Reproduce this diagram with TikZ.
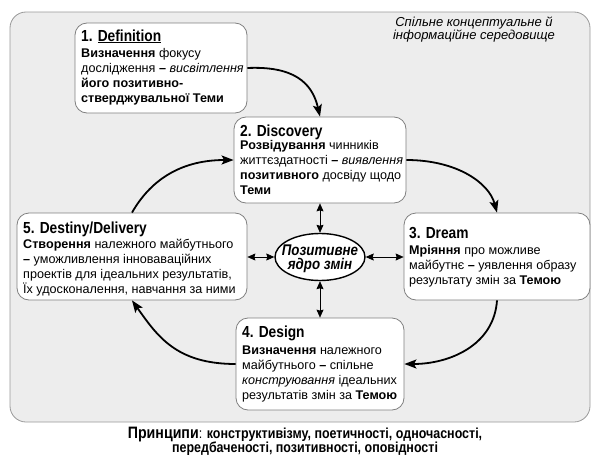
\documentclass[tikz,border=0pt]{standalone}
\usepackage{fontspec}
\setmainfont{Liberation Sans}
\newfontfamily\narrowfont[FakeStretch=0.86]{Liberation Sans}
\usetikzlibrary{arrows.meta,shapes.geometric}
\newcommand\bodylines[1]{\begin{tabular}[t]{@{}l@{}}#1\end{tabular}}
\newcommand\ctrlines[1]{\begin{tabular}[t]{@{}c@{}}#1\end{tabular}}
\begin{document}
\begin{tikzpicture}[x=1pt,y=-1pt,
  stage/.style={draw=black!50, line width=0.8pt, fill=white, rounded corners=12pt, inner sep=0pt},
  ttl/.style={anchor=base west, inner sep=0pt, font=\narrowfont\bfseries\fontsize{16}{16}\selectfont},
  body/.style={anchor=base west, inner sep=0pt, font=\fontsize{12.6}{15}\selectfont},
  flow/.style={line width=1.8pt, -{Stealth[length=12pt,width=9pt,inset=2.5pt]}},
  link/.style={line width=0.6pt, {Stealth[length=8pt,width=7pt,inset=1pt]}-{Stealth[length=8pt,width=7pt,inset=1pt]}}
]
\useasboundingbox (0,0) rectangle (592,455);
\node[draw=black!40, line width=0.8pt, fill=black!7, rounded corners=16pt, minimum width=580pt, minimum height=410pt, inner sep=0pt] (env) at (300,217) {};
\node[anchor=base, inner sep=0pt, font=\itshape\fontsize{13}{11}\selectfont] (envlabel) at (474,27)
  {\ctrlines{Спільне концептуальне й\\інформаційне середовище}};

% boxes
\node[stage, minimum width=172pt, minimum height=90pt] (def) at (161,68) {};
\node[stage, minimum width=172pt, minimum height=86pt] (disc) at (320,160) {};
\node[stage, minimum width=186pt, minimum height=87pt] (dream) at (497,256.5) {};
\node[stage, minimum width=168pt, minimum height=92pt] (design) at (320,364) {};
\node[stage, minimum width=230pt, minimum height=87pt] (destiny) at (132,256.5) {};
\node[ellipse, draw, line width=1.4pt, fill=white, minimum width=90pt, minimum height=47pt, inner sep=0pt] (core) at (320,257) {};
\node[anchor=base, inner sep=0pt, font=\narrowfont\bfseries\itshape\fontsize{15.5}{11.5}\selectfont] (coretext) at (320,255) {\ctrlines{Позитивне\\ядро змін}};

% texts
\node[ttl] (deft) at (81,41) {1. \underline{Definition}};
\node[body] (defb) at (81,57) {\bodylines{\textbf{Визначення} фокусу\\дослідження \textbf{–} \textit{висвітлення}\\\textbf{його позитивно-}\\\textbf{стверджувальної Теми}}};

\node[ttl] (disct) at (240,136) {2. Discovery};
\node[body] (discb) at (240,149.5) {\bodylines{\textbf{Розвідування} чинників\\життєздатності \textbf{–} \textit{виявлення}\\\textbf{позитивного} досвіду щодо\\\textbf{Теми}}};

\node[ttl] (dreamt) at (409,238) {3. Dream};
\node[body] (dreamb) at (409,254) {\bodylines{\textbf{Мріяння} про можливе\\майбутнє \textbf{–} уявлення образу\\результату змін за \textbf{Темою}}};

\node[ttl] (designt) at (242,337) {4. Design};
\node[body] (designb) at (242,354) {\bodylines{\textbf{Визначення} належного\\майбутнього \textbf{–} спільне\\\textit{конструювання} ідеальних\\результатів змін за \textbf{Темою}}};

\node[ttl] (destinyt) at (23,233) {5. Destiny/Delivery};
\node[body] (destinyb) at (23,248) {\bodylines{\textbf{Створення} належного майбутнього\\\textbf{–} уможливлення інноваваційних\\проектів для ідеальних результатів,\\Їх удосконалення, навчання за ними}};

% principles
\node[anchor=base, inner sep=0pt, font=\narrowfont\fontsize{14.5}{13}\selectfont] (princ) at (305,438)
  {\ctrlines{{\bfseries\fontsize{16.5}{13}\selectfont Принципи}: \textbf{конструктивізму, поетичності, одночасності,}\\\textbf{передбаченості, позитивності, оповідності}}};

% cycle arrows
\draw[flow] (def.east) .. controls +(45,-2) and +(-8,-35) .. (disc.north);
\draw[flow] (disc.east) .. controls +(50,0) and +(-8,-30) .. (dream.north);
\draw[flow] (dream.south) .. controls +(-3,45) and +(45,0) .. (design.east);
\draw[flow] (design.west) .. controls +(-60,0) and +(25,35) .. (destiny.south);
\draw[flow] (destiny.north) .. controls +(20,-35) and +(-50,0) .. (disc.west);

% core links
\draw[link] (core.north) -- (disc.south);
\draw[link] (core.south) -- (design.north);
\draw[link] (core.west) -- (core.west -| destiny.east);
\draw[link] (core.east) -- (core.east -| dream.west);
\end{tikzpicture}
\end{document}
